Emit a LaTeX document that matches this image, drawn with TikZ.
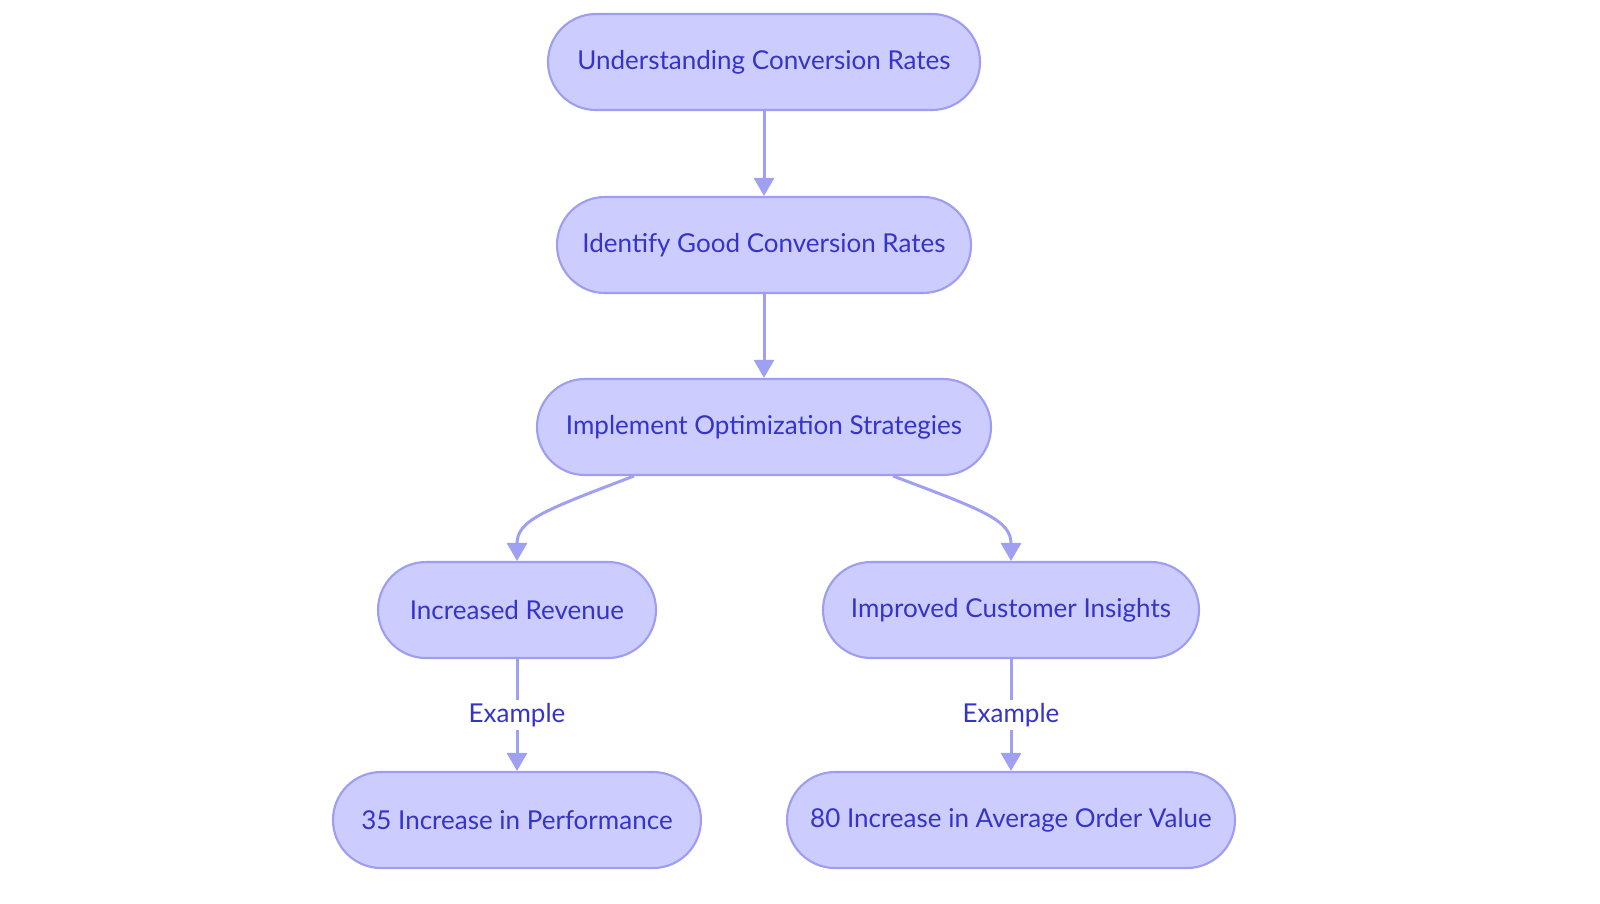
\documentclass[tikz,border=0pt]{standalone}
\usepackage{fontspec}
\setmainfont{Lato}
\usetikzlibrary{positioning,arrows.meta}
\definecolor{boxfill}{HTML}{CCCCFF}
\definecolor{boxline}{HTML}{9D9DF2}
\definecolor{boxtext}{HTML}{3434C8}
\definecolor{flow}{HTML}{A0A0F2}
\begin{document}
\begin{tikzpicture}[
    stage/.style={draw=boxline, fill=boxfill, text=boxtext, line width=0.6pt, minimum height=0.96cm, rounded corners=0.48cm, font=\fontsize{7.4}{8}\selectfont},
    link/.style={draw=flow, line width=0.85pt, -{Triangle[length=0.18cm, width=0.2cm]}},
    tag/.style={fill=white, text=boxtext, font=\fontsize{7.4}{8}\selectfont, inner sep=1pt}
]
\useasboundingbox (0,0) rectangle (16,-9.03);

% Main chain
\node[stage, minimum width=4.32cm] (understand) at (7.64,-0.62) {Understanding Conversion Rates};
\node[stage, minimum width=4.14cm] (identify) at (7.64,-2.45) {Identify Good Conversion Rates};
\node[stage, minimum width=4.54cm] (implement) at (7.64,-4.27) {Implement Optimization Strategies};

% Outcomes
\node[stage, minimum width=2.78cm] (revenue) at (5.17,-6.10) {Increased Revenue};
\node[stage, minimum width=3.76cm] (insights) at (10.11,-6.10) {Improved Customer Insights};

% Examples
\node[stage, minimum width=3.68cm] (perf) at (5.17,-8.20) {35 Increase in Performance};
\node[stage, minimum width=4.48cm] (order) at (10.11,-8.20) {80 Increase in Average Order Value};

\coordinate (leftout) at (6.34,-4.76);
\coordinate (rightout) at (8.93,-4.76);

\draw[link] (understand) -- (identify);
\draw[link] (identify) -- (implement);
\draw[link] (leftout) .. controls (5.45,-5.1) and (5.17,-5.2) .. (revenue.north);
\draw[link] (rightout) .. controls (9.83,-5.1) and (10.11,-5.2) .. (insights.north);
\draw[link] (revenue) -- node[tag] {Example} (perf);
\draw[link] (insights) -- node[tag] {Example} (order);

\end{tikzpicture}
\end{document}
